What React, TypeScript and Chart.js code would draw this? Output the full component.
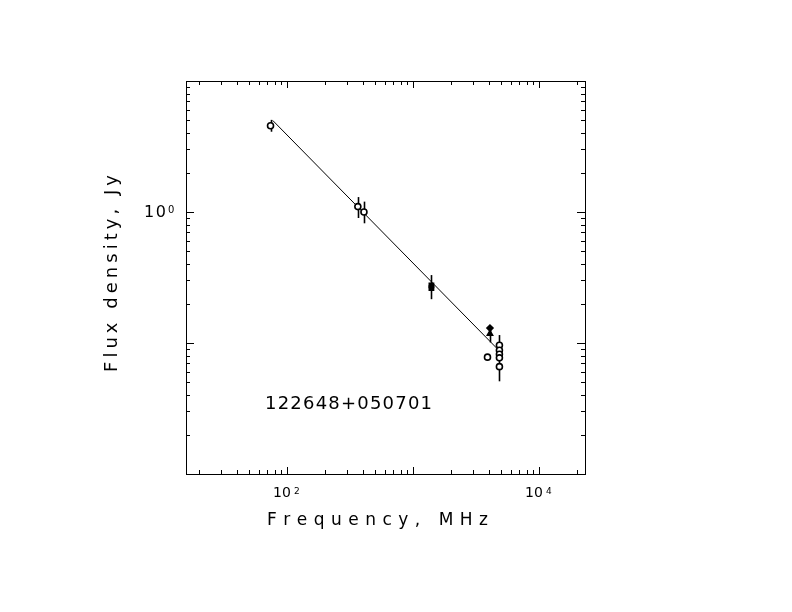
import React, { useEffect, useRef } from 'react';
import { Chart, registerables } from 'chart.js';

Chart.register(...registerables);

const freqMHz = [74, 365, 408, 1400, 1400, 4080, 4080, 3900, 4850, 4850, 4850, 4850, 4850];
const fluxJy = [4.55, 1.1, 1.0, 0.275, 0.262, 0.13, 0.118, 0.078, 0.096, 0.088, 0.082, 0.077, 0.066];
const fluxLow: (number | null)[] = [4.1, 0.9, 0.82, 0.216, null, null, 0.101, null, null, null, null, 0.051, null];
const fluxHigh: (number | null)[] = [5.05, 1.3, 1.2, 0.33, null, null, 0.135, null, null, null, null, 0.115, null];
const markerStyle = ['circle', 'circle', 'circle', 'rect', 'rect', 'rectRot', 'triangle', 'circle', 'circle', 'circle', 'circle', 'circle', 'circle'];
const markerFilled = [false, false, false, true, true, true, true, false, false, false, false, false, false];

// fitted power law, end points
const fitFreq = [77, 4850];
const fitFlux = [5.0, 0.087];

// axes
const xDecades = [10, 100, 1000, 10000];
const yDecades = [0.01, 0.1, 1, 10];
const minorSteps = [2, 3, 4, 5, 6, 7, 8, 9];
const xTickLabels = [{ value: 100, exp: '2' }, { value: 10000, exp: '4' }];
const yTickLabels = [{ value: 1, exp: '0' }];

const sourceName = '122648+050701';
const xTitle = 'Frequency, MHz';
const yTitle = 'Flux density, Jy';

const FONT = '"DejaVu Sans", "Liberation Sans", sans-serif';

// draw text char by char, stretched to a given width (the original uses a wide stroke font)
function drawSpaced(ctx: CanvasRenderingContext2D, text: string, x: number, y: number, width: number) {
    const chars = text.split('');
    const widths = chars.map(c => ctx.measureText(c).width);
    const natural = widths.reduce((s, w) => s + w, 0);
    const gap = chars.length > 1 ? (width - natural) / (chars.length - 1) : 0;
    let cx = x;
    chars.forEach((c, i) => {
        ctx.fillText(c, cx, y);
        cx += widths[i] + gap;
    });
}

const framePlugin = {
    id: 'frameTicks',
    beforeDatasetsDraw(chart: any) {
        const { ctx, scales: { x, y } } = chart;
        ctx.save();
        ctx.strokeStyle = '#000';
        ctx.lineWidth = 1.6;
        freqMHz.forEach((f, i) => {
            const lo = fluxLow[i];
            const hi = fluxHigh[i];
            if (lo == null || hi == null) return;
            const px = Math.round(x.getPixelForValue(f)) + 0.5;
            ctx.beginPath();
            ctx.moveTo(px, y.getPixelForValue(lo));
            ctx.lineTo(px, y.getPixelForValue(hi));
            ctx.stroke();
        });
        ctx.restore();
    },
    afterDatasetsDraw(chart: any) {
        const { ctx, chartArea: a, scales: { x, y } } = chart;
        ctx.save();
        ctx.strokeStyle = '#000';
        ctx.lineWidth = 1;
        ctx.strokeRect(a.left + 0.5, a.top + 0.5, a.right - a.left, a.bottom - a.top);

        const xTick = (v: number, len: number) => {
            if (v < x.min || v > x.max) return;
            const px = Math.round(x.getPixelForValue(v)) + 0.5;
            ctx.beginPath();
            ctx.moveTo(px, a.bottom);
            ctx.lineTo(px, a.bottom - len);
            ctx.moveTo(px, a.top);
            ctx.lineTo(px, a.top + len);
            ctx.stroke();
        };
        const yTick = (v: number, len: number) => {
            if (v < y.min || v > y.max) return;
            const py = Math.round(y.getPixelForValue(v)) + 0.5;
            ctx.beginPath();
            ctx.moveTo(a.left, py);
            ctx.lineTo(a.left + len, py);
            ctx.moveTo(a.right, py);
            ctx.lineTo(a.right - len, py);
            ctx.stroke();
        };
        xDecades.forEach(d => {
            xTick(d, 7);
            minorSteps.forEach(m => xTick(d * m, 4));
        });
        yDecades.forEach(d => {
            yTick(d, 8);
            minorSteps.forEach(m => yTick(d * m, 4));
        });

        ctx.fillStyle = '#000';
        ctx.textBaseline = 'alphabetic';

        // tick labels
        xTickLabels.forEach(t => {
            const px = x.getPixelForValue(t.value);
            const left = px - 14;
            ctx.font = `14px ${FONT}`;
            drawSpaced(ctx, '10', left, a.bottom + 23, 18);
            ctx.font = `9px ${FONT}`;
            ctx.fillText(t.exp, left + 21, a.bottom + 20);
        });
        yTickLabels.forEach(t => {
            const py = y.getPixelForValue(t.value);
            ctx.font = `16px ${FONT}`;
            drawSpaced(ctx, '10', a.left - 42, py + 5, 22);
            ctx.font = `10px ${FONT}`;
            ctx.fillText(t.exp, a.left - 18, py + 1);
        });

        // axis titles
        ctx.font = `17px ${FONT}`;
        drawSpaced(ctx, xTitle, a.left + 81, a.bottom + 51, 221);

        ctx.save();
        ctx.translate(a.left - 69, a.top + 291);
        ctx.rotate(-Math.PI / 2);
        ctx.font = `18px ${FONT}`;
        drawSpaced(ctx, yTitle, 0, 0, 197);
        ctx.restore();

        // source name
        ctx.font = `18px ${FONT}`;
        drawSpaced(ctx, sourceName, a.left + 79, a.top + 328, 167);

        ctx.restore();
    }
};

const App: React.FC = () => {
    const canvasRef = useRef<HTMLCanvasElement>(null);

    useEffect(() => {
        document.body.style.margin = '0';
        if (!canvasRef.current) return;
        const ctx = canvasRef.current.getContext('2d');
        if (!ctx) return;

        const chart = new Chart(ctx, {
            type: 'scatter',
            data: {
                datasets: [
                    {
                        label: 'Flux',
                        data: freqMHz.map((f, i) => ({ x: f, y: fluxJy[i] })),
                        pointStyle: markerStyle as any,
                        pointRadius: 3,
                        pointBorderWidth: 1.6,
                        pointBorderColor: '#000',
                        pointBackgroundColor: markerFilled.map(f => (f ? '#000' : '#fff')),
                        order: 0
                    },
                    {
                        type: 'line',
                        label: 'Fit',
                        data: fitFreq.map((f, i) => ({ x: f, y: fitFlux[i] })),
                        borderColor: '#000',
                        borderWidth: 1,
                        pointRadius: 0,
                        fill: false,
                        order: 1
                    } as any
                ]
            },
            options: {
                responsive: false,
                animation: false,
                events: [],
                layout: { padding: { left: 186, top: 81, right: 207, bottom: 138 } },
                scales: {
                    x: { type: 'logarithmic', min: 15.79, max: 23170, display: false },
                    y: { type: 'logarithmic', min: 0.01, max: 10, display: false }
                },
                plugins: {
                    legend: { display: false },
                    tooltip: { enabled: false }
                }
            },
            plugins: [framePlugin]
        });

        return () => {
            chart.destroy();
        };
    }, []);

    return (
        <div style={{ width: 792, height: 612, background: '#fff' }}>
            <canvas ref={canvasRef} width={792} height={612} style={{ display: 'block' }}></canvas>
        </div>
    );
};

export default App;
